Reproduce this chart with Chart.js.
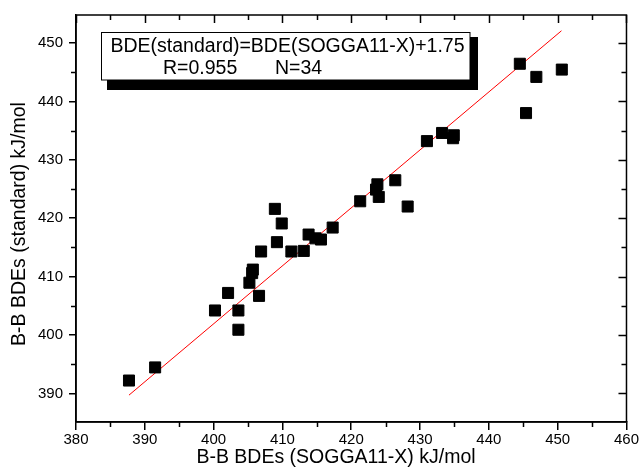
<!DOCTYPE html>
<html>
<head>
<meta charset="utf-8">
<script src="https://cdn.jsdelivr.net/npm/chart.js@4/dist/chart.umd.min.js"></script>
<style>
  body { margin: 0; background: #fff; }
  #wrap { width: 640px; height: 470px; }
</style>
</head>
<body>
<div id="wrap"><canvas id="chart" width="640" height="470"></canvas></div>
<script>
// B-B bond dissociation energies, kJ/mol
const bdeSogga = [387.7, 391.5, 400.2, 402.1, 403.6, 403.6, 405.2, 405.7, 405.6, 406.6,
                  406.9, 409.2, 408.9, 409.9, 411.3, 413.1, 413.8, 414.8, 415.6, 417.3,
                  421.3, 423.8, 423.6, 424.0, 426.4, 428.2, 431.0, 433.2, 434.9, 434.8,
                  444.5, 446.9, 450.6, 445.4];
const bdeStandard = [392.2, 394.45, 404.2, 407.2, 404.2, 400.9, 408.95, 411.2, 410.6, 406.7,
                     414.3, 415.9, 421.6, 419.1, 414.3, 414.4, 417.2, 416.55, 416.35, 418.4,
                     422.9, 425.8, 424.9, 423.65, 426.5, 422.0, 433.2, 434.6, 434.2, 433.7,
                     446.45, 444.2, 445.45, 438.0];

// fitted line end points
const fitX = [387.7, 450.55];
const fitY = [389.7, 452.1];

const xTicks = [380, 390, 400, 410, 420, 430, 440, 450, 460];
const yTicks = [390, 400, 410, 420, 430, 440, 450];

const xTitle = 'B-B BDEs (SOGGA11-X) kJ/mol';
const yTitle = 'B-B BDEs (standard) kJ/mol';
const fitText = 'BDE(standard)=BDE(SOGGA11-X)+1.75';
const statR = 'R=0.955';
const statN = 'N=34';

const FONT = '"Liberation Sans", Arial, sans-serif';

// frame, minor ticks, axis titles and the equation box
const framePlugin = {
    id: 'frame',
    beforeDraw(chart) {
        const ctx = chart.ctx;
        ctx.save();
        ctx.fillStyle = '#fff';
        ctx.fillRect(0, 0, chart.width, chart.height);
        ctx.restore();
    },
    afterDraw(chart) {
        const { ctx, chartArea: a, scales: { x, y } } = chart;
        ctx.save();
        ctx.strokeStyle = '#000';
        ctx.lineWidth = 1.5;
        ctx.strokeRect(a.left, a.top, a.right - a.left, a.bottom - a.top);

        ctx.beginPath();
        // x: minor ticks below, top axis ticks inward
        xTicks.forEach(v => {
            const px = Math.round(x.getPixelForValue(v)) + 0.5;
            ctx.moveTo(px, a.top); ctx.lineTo(px, a.top + 8);
            const m = v + 5;
            if (m < x.max) {
                const pm = Math.round(x.getPixelForValue(m)) + 0.5;
                ctx.moveTo(pm, a.bottom); ctx.lineTo(pm, a.bottom + 5);
                ctx.moveTo(pm, a.top); ctx.lineTo(pm, a.top + 5);
            }
        });
        // y: minor ticks left, right axis ticks inward
        yTicks.forEach(v => {
            const py = Math.round(y.getPixelForValue(v)) + 0.5;
            ctx.moveTo(a.right, py); ctx.lineTo(a.right - 8, py);
            [v - 5, v + 5].forEach(m => {
                if (m > y.min && m < y.max && (v === yTicks[0] || m > v)) {
                    const pm = Math.round(y.getPixelForValue(m)) + 0.5;
                    ctx.moveTo(a.left, pm); ctx.lineTo(a.left - 5, pm);
                    ctx.moveTo(a.right, pm); ctx.lineTo(a.right - 5, pm);
                }
            });
        });
        ctx.stroke();

        // axis titles
        ctx.fillStyle = '#000';
        ctx.font = '19.5px ' + FONT;
        ctx.textAlign = 'center';
        ctx.textBaseline = 'alphabetic';
        ctx.fillText(xTitle, 336, 463);
        ctx.save();
        ctx.translate(25, 224);
        ctx.rotate(-Math.PI / 2);
        ctx.fillText(yTitle, 0, 0);
        ctx.restore();

        // equation box with shadow
        ctx.fillStyle = '#000';
        ctx.fillRect(107, 37, 371, 53);
        ctx.fillStyle = '#fff';
        ctx.fillRect(101.5, 32.5, 368.5, 47.5);
        ctx.lineWidth = 1;
        ctx.strokeRect(101.5, 32.5, 368.5, 47.5);
        ctx.fillStyle = '#000';
        ctx.textAlign = 'left';
        ctx.fillText(fitText, 110.5, 52);
        ctx.fillText(statR, 163, 74);
        ctx.fillText(statN, 275, 74);
        ctx.restore();
    }
};

const canvas = document.getElementById('chart');

new Chart(canvas, {
    type: 'scatter',
    data: {
        datasets: [
            {
                label: 'Data',
                data: bdeSogga.map((v, i) => ({ x: v, y: bdeStandard[i] })),
                pointStyle: 'rect',
                pointRadius: 7.8,
                backgroundColor: '#000',
                borderColor: '#000',
                borderWidth: 1,
                order: 1
            },
            {
                label: 'Fit',
                type: 'line',
                data: fitX.map((v, i) => ({ x: v, y: fitY[i] })),
                borderColor: '#ff0000',
                borderWidth: 1,
                pointRadius: 0,
                fill: false,
                order: 2
            }
        ]
    },
    options: {
        responsive: false,
        animation: false,
        layout: {
            padding: { top: 13, right: 13, left: 0, bottom: 0 }
        },
        plugins: {
            legend: { display: false },
            tooltip: { enabled: false }
        },
        scales: {
            x: {
                type: 'linear',
                min: 380,
                max: 460,
                afterBuildTicks: scale => { scale.ticks = xTicks.map(v => ({ value: v })); },
                afterFit: scale => { scale.height = 48; },
                grid: { drawOnChartArea: false, tickLength: 8, color: '#000', lineWidth: 1.5 },
                border: { color: '#000', width: 1.5 },
                ticks: {
                    color: '#000',
                    padding: 1,
                    maxRotation: 0,
                    font: { family: FONT, size: 15 }
                }
            },
            y: {
                type: 'linear',
                min: 385.1,
                max: 454.8,
                afterBuildTicks: scale => { scale.ticks = yTicks.map(v => ({ value: v })); },
                afterFit: scale => { scale.width = 76; },
                grid: { drawOnChartArea: false, tickLength: 7, color: '#000', lineWidth: 1.5 },
                border: { color: '#000', width: 1.5 },
                ticks: {
                    color: '#000',
                    padding: 6,
                    font: { family: FONT, size: 15 }
                }
            }
        }
    },
    plugins: [framePlugin]
});
</script>
</body>
</html>
